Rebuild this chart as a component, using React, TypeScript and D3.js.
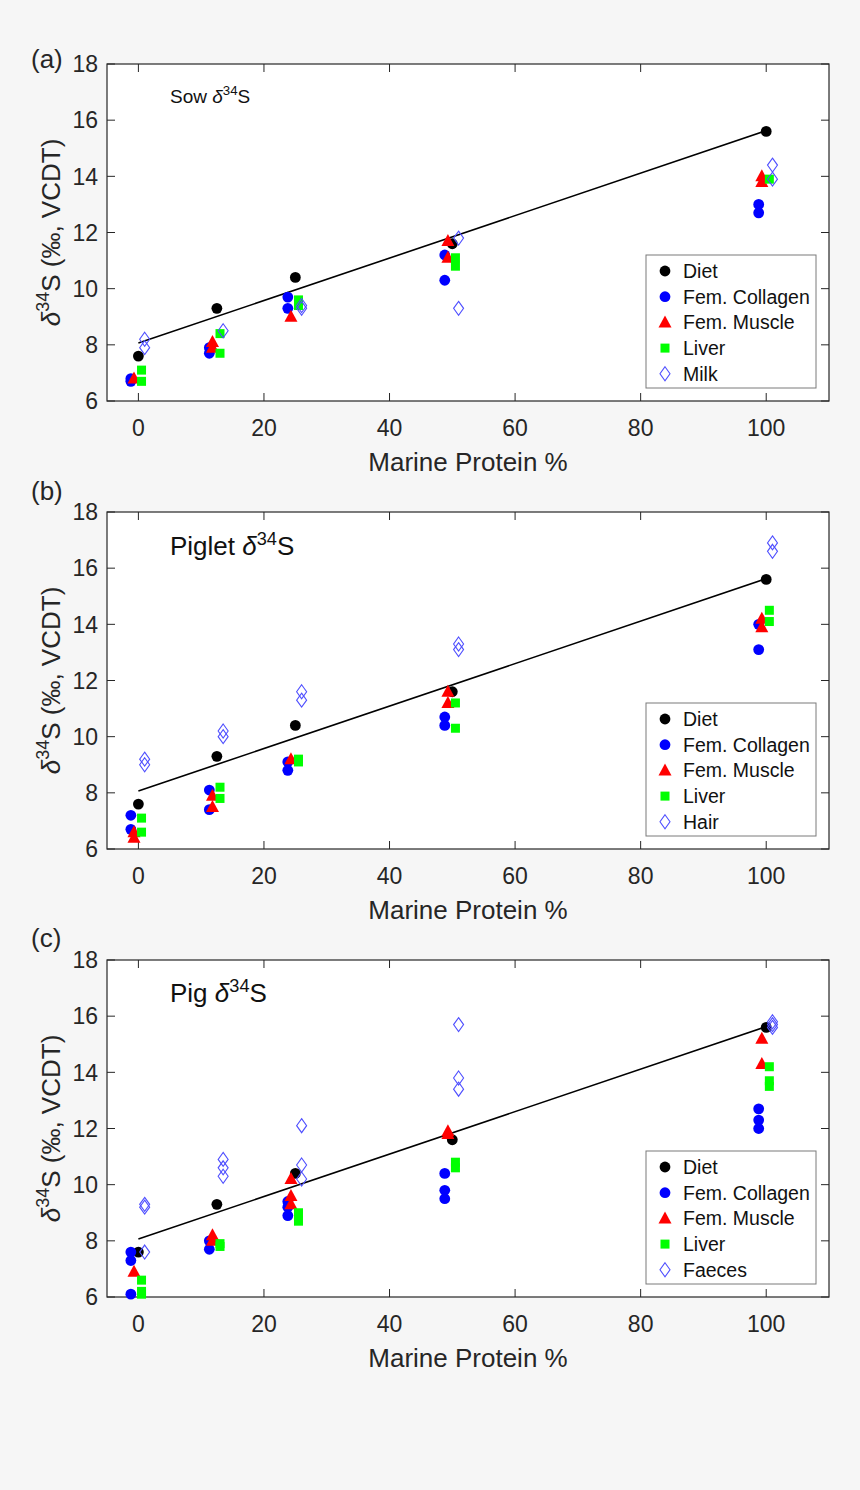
import React from 'react';
import * as d3 from 'd3';

// ---------- data ----------
const X_GROUPS = [0, 12.5, 25, 50, 100];
const X_TICKS = [0, 20, 40, 60, 80, 100];
const Y_TICKS = [6, 8, 10, 12, 14, 16, 18];
const X_DOMAIN: [number, number] = [-5, 110];
const Y_DOMAIN: [number, number] = [6, 18];

// (a) Sow
const sowDiet = [7.6, 9.3, 10.4, 11.6, 15.6];
const sowCollagen = [[6.7, 6.8], [7.9, 7.7], [9.7, 9.3], [11.2, 10.3], [13.0, 12.7]];
const sowMuscle = [[6.8], [8.1, 7.9], [9.0], [11.7, 11.1], [14.0, 13.8]];
const sowLiver = [[7.1, 6.7], [8.4, 7.7], [9.6, 9.4], [11.1, 10.8], [13.9]];
const sowMilk = [[8.2, 7.9], [8.5], [9.4, 9.3], [11.8, 9.3], [14.4, 13.9]];

// (b) Piglet
const pigletDiet = [7.6, 9.3, 10.4, 11.6, 15.6];
const pigletCollagen = [[7.2, 6.7], [8.1, 7.4], [9.1, 8.8], [10.7, 10.4], [14.0, 13.1]];
const pigletMuscle = [[6.6, 6.4], [7.9, 7.5], [9.2], [11.6, 11.2], [14.2, 13.9]];
const pigletLiver = [[7.1, 6.6], [8.2, 7.8], [9.2, 9.1], [11.2, 10.3], [14.5, 14.1]];
const pigletHair = [[9.2, 9.0], [10.2, 10.0], [11.6, 11.3], [13.3, 13.1], [16.9, 16.6]];

// (c) Pig
const pigDiet = [7.6, 9.3, 10.4, 11.6, 15.6];
const pigCollagen = [[7.6, 7.3, 6.1], [8.0, 7.7], [9.4, 9.2, 8.9], [10.4, 9.8, 9.5], [12.7, 12.3, 12.0]];
const pigMuscle = [[6.9], [8.2, 8.0], [10.2, 9.6, 9.3], [11.9, 11.8], [15.2, 14.3]];
const pigLiver = [[6.6, 6.2, 6.1], [7.9, 7.8], [9.0, 8.7], [10.8, 10.6], [14.2, 13.7, 13.5]];
const pigFaeces = [[9.3, 9.2, 7.6], [10.9, 10.6, 10.3], [12.1, 10.7, 10.2], [15.7, 13.8, 13.4], [15.8, 15.7, 15.6]];

const COMMON_NAMES = ['Diet', 'Fem. Collagen', 'Fem. Muscle', 'Liver'];

// ---------- styles ----------
const FONT = "'Liberation Sans', Arial, Helvetica, sans-serif";
const TEXT = '#262626';
const BG = '#f6f6f6';

type Kind = 'circleK' | 'circleB' | 'tri' | 'sq' | 'dia';
const KINDS: Kind[] = ['circleK', 'circleB', 'tri', 'sq', 'dia'];
const JITTER = [0, -1.2, -0.7, 0.5, 1.0];

function Marker({ kind, cx, cy }: { kind: Kind; cx: number; cy: number }) {
  if (kind === 'circleK') return <circle cx={cx} cy={cy} r={5.4} fill="#000" />;
  if (kind === 'circleB') return <circle cx={cx} cy={cy} r={5.4} fill="#0000ff" />;
  if (kind === 'tri')
    return <path d={`M${cx},${cy - 7} L${cx + 6.5},${cy + 5} L${cx - 6.5},${cy + 5} Z`} fill="#ff0000" />;
  if (kind === 'sq') return <rect x={cx - 4.5} y={cy - 4.5} width={9} height={9} fill="#00ff00" />;
  return (
    <path
      d={`M${cx},${cy - 7} L${cx + 5},${cy} L${cx},${cy + 7} L${cx - 5},${cy} Z`}
      fill="none"
      stroke="#4f4fff"
      strokeWidth={1.1}
    />
  );
}

const LEFT = 107;
const RIGHT = 829;
const PH = 337;

const panels = [
  {
    label: '(a)', labelY: 68, title: 'Sow', titleSize: 19, titleY: 103, top: 64,
    diet: sowDiet, series: [sowCollagen, sowMuscle, sowLiver, sowMilk], extra: 'Milk',
  },
  {
    label: '(b)', labelY: 500, title: 'Piglet', titleSize: 26, titleY: 555, top: 512,
    diet: pigletDiet, series: [pigletCollagen, pigletMuscle, pigletLiver, pigletHair], extra: 'Hair',
  },
  {
    label: '(c)', labelY: 947, title: 'Pig', titleSize: 26, titleY: 1002, top: 960,
    diet: pigDiet, series: [pigCollagen, pigMuscle, pigLiver, pigFaeces], extra: 'Faeces',
  },
];

function Panel({ p }: { p: (typeof panels)[number] }) {
  const x = d3.scaleLinear().domain(X_DOMAIN).range([LEFT, RIGHT]);
  const y = d3.scaleLinear().domain(Y_DOMAIN).range([p.top + PH, p.top]);
  const bottom = p.top + PH;
  const tick = 8;

  // least squares fit of diet values
  const mx = d3.mean(X_GROUPS) as number;
  const my = d3.mean(p.diet) as number;
  const sxy = d3.sum(X_GROUPS.map((xv, i) => (xv - mx) * (p.diet[i] - my)));
  const sxx = d3.sum(X_GROUPS.map((xv) => (xv - mx) ** 2));
  const slope = sxy / sxx;
  const icpt = my - slope * mx;
  const lineGen = d3
    .line<number>()
    .x((d) => x(d))
    .y((d) => y(icpt + slope * d));
  const fitPath = lineGen([X_GROUPS[0], X_GROUPS[X_GROUPS.length - 1]]) as string;

  const names = [...COMMON_NAMES, p.extra];
  const allSeries = [p.diet.map((v) => [v]), ...p.series];

  const legX = 646;
  const legY = p.top + 191;
  const legW = 170;
  const legH = 133;
  const rowY0 = legY + 16;
  const rowDy = 25.7;

  const ts = p.titleSize;

  return (
    <g>
      <rect x={LEFT} y={p.top} width={RIGHT - LEFT} height={PH} fill="#fff" />
      {/* ticks */}
      {Y_TICKS.map((t) => (
        <g key={'y' + t}>
          <line x1={LEFT} x2={LEFT + tick} y1={y(t)} y2={y(t)} stroke={TEXT} />
          <line x1={RIGHT} x2={RIGHT - tick} y1={y(t)} y2={y(t)} stroke={TEXT} />
          <text x={LEFT - 9} y={y(t)} dy="0.36em" textAnchor="end" fontSize={23} fill={TEXT}>
            {t}
          </text>
        </g>
      ))}
      {X_TICKS.map((t) => (
        <g key={'x' + t}>
          <line x1={x(t)} x2={x(t)} y1={bottom} y2={bottom - tick} stroke={TEXT} />
          <line x1={x(t)} x2={x(t)} y1={p.top} y2={p.top + tick} stroke={TEXT} />
          <text x={x(t)} y={bottom + 35} textAnchor="middle" fontSize={23} fill={TEXT}>
            {t}
          </text>
        </g>
      ))}
      <rect x={LEFT} y={p.top} width={RIGHT - LEFT} height={PH} fill="none" stroke={TEXT} strokeWidth={1.2} />

      {/* axis titles */}
      <text x={(LEFT + RIGHT) / 2} y={bottom + 70} textAnchor="middle" fontSize={26} fill={TEXT}>
        Marine Protein %
      </text>
      <text
        transform={`translate(60,${p.top + PH / 2}) rotate(-90)`}
        textAnchor="middle"
        fontSize={26}
        fill={TEXT}
      >
        <tspan fontStyle="italic">δ</tspan>
        <tspan fontSize={18} dy={-11}>34</tspan>
        <tspan dy={11}>S (‰, VCDT)</tspan>
      </text>
      <text x={31} y={p.labelY} fontSize={26} fill={TEXT}>
        {p.label}
      </text>
      <text x={170} y={p.titleY} fontSize={ts} fill="#111">
        {p.title + ' '}
        <tspan fontStyle="italic">δ</tspan>
        <tspan fontSize={ts * 0.7} dy={-ts * 0.4}>34</tspan>
        <tspan dy={ts * 0.4}>S</tspan>
      </text>

      {/* fit line */}
      <path d={fitPath} stroke="#000" strokeWidth={1.6} fill="none" />

      {/* data */}
      {allSeries.map((ser, si) =>
        ser.map((vals, gi) =>
          vals.map((v, k) => (
            <Marker key={`${si}-${gi}-${k}`} kind={KINDS[si]} cx={x(X_GROUPS[gi] + JITTER[si])} cy={y(v)} />
          ))
        )
      )}

      {/* legend */}
      <rect x={legX} y={legY} width={legW} height={legH} fill="#fff" stroke="#7a7a7a" strokeWidth={1} />
      {names.map((n, i) => (
        <g key={n}>
          <Marker kind={KINDS[i]} cx={legX + 19} cy={rowY0 + i * rowDy} />
          <text x={legX + 37} y={rowY0 + i * rowDy} dy="0.36em" fontSize={19.5} fill="#111">
            {n}
          </text>
        </g>
      ))}
    </g>
  );
}

export default function App() {
  return (
    <svg
      width={860}
      height={1490}
      style={{ position: 'absolute', left: 0, top: 0, display: 'block' }}
      fontFamily={FONT}
    >
      <rect x={0} y={0} width={860} height={1490} fill={BG} />
      {panels.map((p) => (
        <Panel key={p.label} p={p} />
      ))}
    </svg>
  );
}
